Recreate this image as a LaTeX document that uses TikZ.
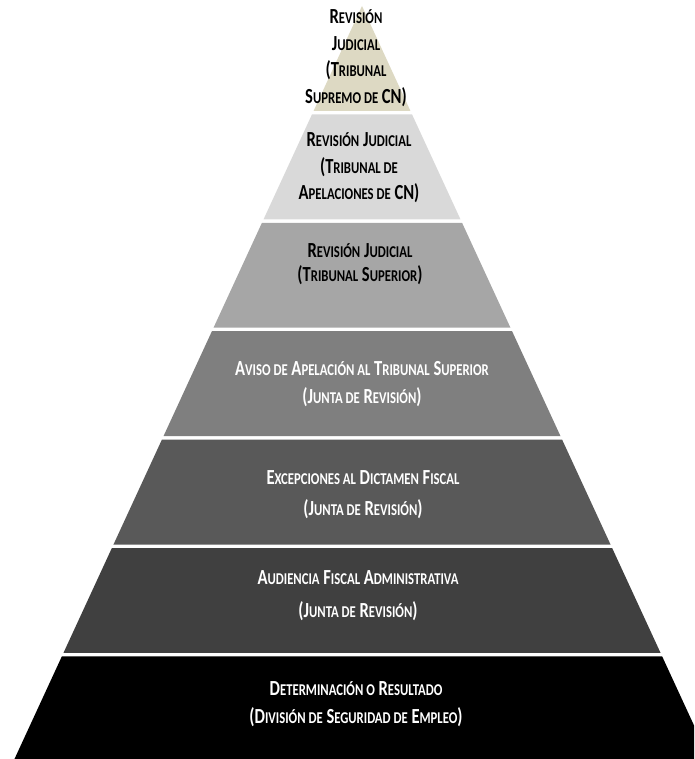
\documentclass[tikz,border=0pt]{standalone}
\usepackage{fontspec}
\setmainfont{Carlito}[FakeStretch=0.77]
\definecolor{tanlayer}{HTML}{DDD9C3}
\definecolor{grayA}{HTML}{D9D9D9}
\definecolor{grayB}{HTML}{A6A6A6}
\definecolor{grayC}{HTML}{7F7F7F}
\definecolor{grayD}{HTML}{595959}
\definecolor{grayE}{HTML}{404040}
\newcommand{\sm}[1]{{\fontsize{16.5}{19}\selectfont #1}}
\begin{document}
\begin{tikzpicture}[x=1pt, y=-1pt, line join=round]
				\tikzset{level text/.style={align=center, font=\fontsize{21.5}{26.5}\selectfont\bfseries, inner sep=0pt},
				dark text/.style={level text, text=white}}
				\useasboundingbox (0,0) rectangle (694,759);
				\clip (0,0) rectangle (694,759);
				\path (362,6) coordinate (apex);
				\foreach \k/\col in {0/tanlayer,1/grayA,2/grayB,3/grayC,4/grayD,5/grayE,6/black}{
					\pgfmathsetmacro\t{6+\k*108.4}
					\pgfmathsetmacro\b{\t+104.9}
					\fill[\col] ({362-0.4615*(\t-6)},\t) -- ({362+0.4615*(\t-6)},\t)
					-- ({362+0.4615*(\b-6)},\b) -- ({362-0.4615*(\b-6)},\b) -- cycle;
				}
				\node[level text] (n1) at (356,58) {R\sm{EVISIÓN}\\J\sm{UDICIAL}\\(T\sm{RIBUNAL}\\S\sm{UPREMO DE} CN)};
				\node[level text] (n2) at (359,168) {R\sm{EVISIÓN} J\sm{UDICIAL}\\(T\sm{RIBUNAL DE}\\A\sm{PELACIONES DE} CN)};
				\node[level text] (n3) at (360,264) {R\sm{EVISIÓN} J\sm{UDICIAL}\\[-2pt](T\sm{RIBUNAL} S\sm{UPERIOR})};
				\node[dark text] (n4) at (362,384) {A\sm{VISO DE} A\sm{PELACIÓN AL} T\sm{RIBUNAL} S\sm{UPERIOR}\\[1.5pt](J\sm{UNTA DE} R\sm{EVISIÓN})};
				\node[dark text] (n5) at (363,495) {E\sm{XCEPCIONES AL} D\sm{ICTAMEN} F\sm{ISCAL}\\[4.5pt](J\sm{UNTA DE} R\sm{EVISIÓN})};
				\node[dark text] (n6) at (358,596) {A\sm{UDIENCIA} F\sm{ISCAL} A\sm{DMINISTRATIVA}\\[6.5pt](J\sm{UNTA DE} R\sm{EVISIÓN})};
				\node[dark text] (n7) at (356,704) {D\sm{ETERMINACIÓN O} R\sm{ESULTADO}\\[1.5pt](D\sm{IVISIÓN DE} S\sm{EGURIDAD DE} E\sm{MPLEO})};
			\end{tikzpicture}
\end{document}
